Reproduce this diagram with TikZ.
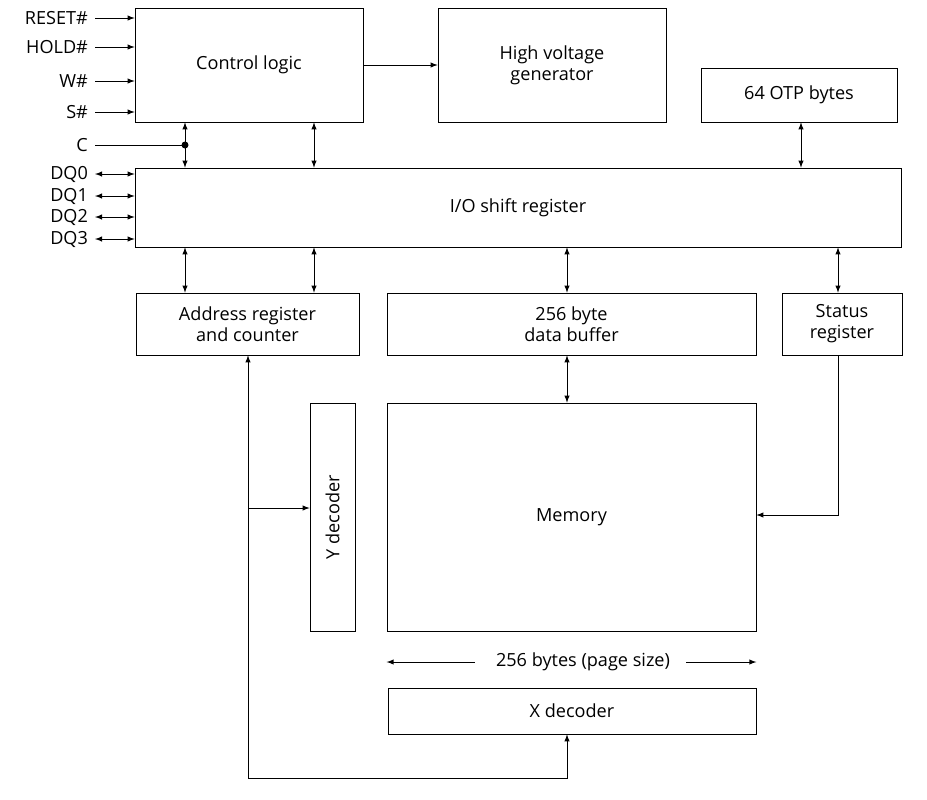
\documentclass[tikz,border=0pt]{standalone}
\usepackage{fontspec}
\setmainfont{Open Sans}
\usetikzlibrary{calc, positioning}
\begin{document}
\begin{tikzpicture}[x=0.02cm,y=-0.02cm,>=latex,
                    font=\fontsize{10.3}{12}\selectfont,
                    blk/.style={draw,thin,inner sep=0pt,align=center},
                    sig/.style={anchor=east,inner sep=1pt}]
  \useasboundingbox (0,0) rectangle (927,799);

  % blocks
  \node[blk,minimum width=228*0.02cm,minimum height=114*0.02cm] (ctl) at (249,65) {Control logic};
  \node[blk,minimum width=228*0.02cm,minimum height=114*0.02cm] (hvg) at (552,65) {High voltage\\generator};
  \node[blk,minimum width=196*0.02cm,minimum height=54*0.02cm] (otp) at (799,95) {64 OTP bytes};
  \node[blk,minimum width=766*0.02cm,minimum height=79*0.02cm] (io) at (518,207.5) {I/O shift register};
  \node[blk,minimum width=223*0.02cm,minimum height=62*0.02cm] (adr) at (247.5,324) {Address register\\and counter};
  \node[blk,minimum width=369*0.02cm,minimum height=62*0.02cm] (buf) at (571.5,324) {256 byte\\data buffer};
  \node[blk,minimum width=120*0.02cm,minimum height=62*0.02cm] (st) at (842,324) {Status\\register};
  \node[blk,minimum width=45*0.02cm,minimum height=228*0.02cm] (yd) at (332.5,517) {};
  \node[rotate=90] at (yd) {Y decoder};
  \node[blk,minimum width=369*0.02cm,minimum height=228*0.02cm] (mem) at (571.5,517) {Memory};
  \node[blk,minimum width=368*0.02cm,minimum height=46*0.02cm] (xd) at (572,711) {X decoder};

  % input signals
  \foreach \name/\yy in {RESET\#/18, HOLD\#/47, W\#/81, S\#/112} {
    \node[sig] (in) at (90,\yy) {\name};
    \draw[->] (in.east) ++(5,0) -- (ctl.west |- 0,\yy);
  }
  \node[sig] (c) at (90,145) {C};
  \coordinate (cdot) at (185,145);
  \draw (c.east) ++(5,0) -- (cdot);
  \fill (cdot) circle (3.5);
  \foreach \name/\yy in {DQ0/174, DQ1/196, DQ2/217, DQ3/239} {
    \node[sig] (dq) at (90,\yy) {\name};
    \draw[<->] (dq.east) ++(5,0) -- (io.west |- 0,\yy);
  }

  % connections
  \draw[->] (ctl) -- (hvg);
  \foreach \xx in {185, 314} {
    \draw[<->] (ctl.south -| \xx,0) -- (io.north -| \xx,0);
    \draw[<->] (io.south -| \xx,0) -- (adr.north -| \xx,0);
  }
  \draw[<->] (otp.south -| 801,0) -- (io.north -| 801,0);
  \draw[<->] (io.south -| 567,0) -- (buf.north -| 567,0);
  \draw[<->] (io.south -| 838,0) -- (st.north -| 838,0);
  \draw[<->] (buf.south -| 567,0) -- (mem.north -| 567,0);
  \draw[->] (st.south -| 838,0) |- (mem.east |- 0,515);

  \coordinate (bot) at (248,778);
  \draw[->] (bot) -- (adr.south -| bot);
  \draw[->] (bot) -| (xd.south -| 567,0);
  \draw[->] (248,508) -- (yd.west |- 0,508);

  % page size
  \node (pg) at (583,662) {256 bytes (page size)};
  \draw[->] (pg.west) ++(-15,0) -- (mem.west |- pg);
  \draw[->] (pg.east) ++(10,0) -- (mem.east |- pg);
\end{tikzpicture}
\end{document}
